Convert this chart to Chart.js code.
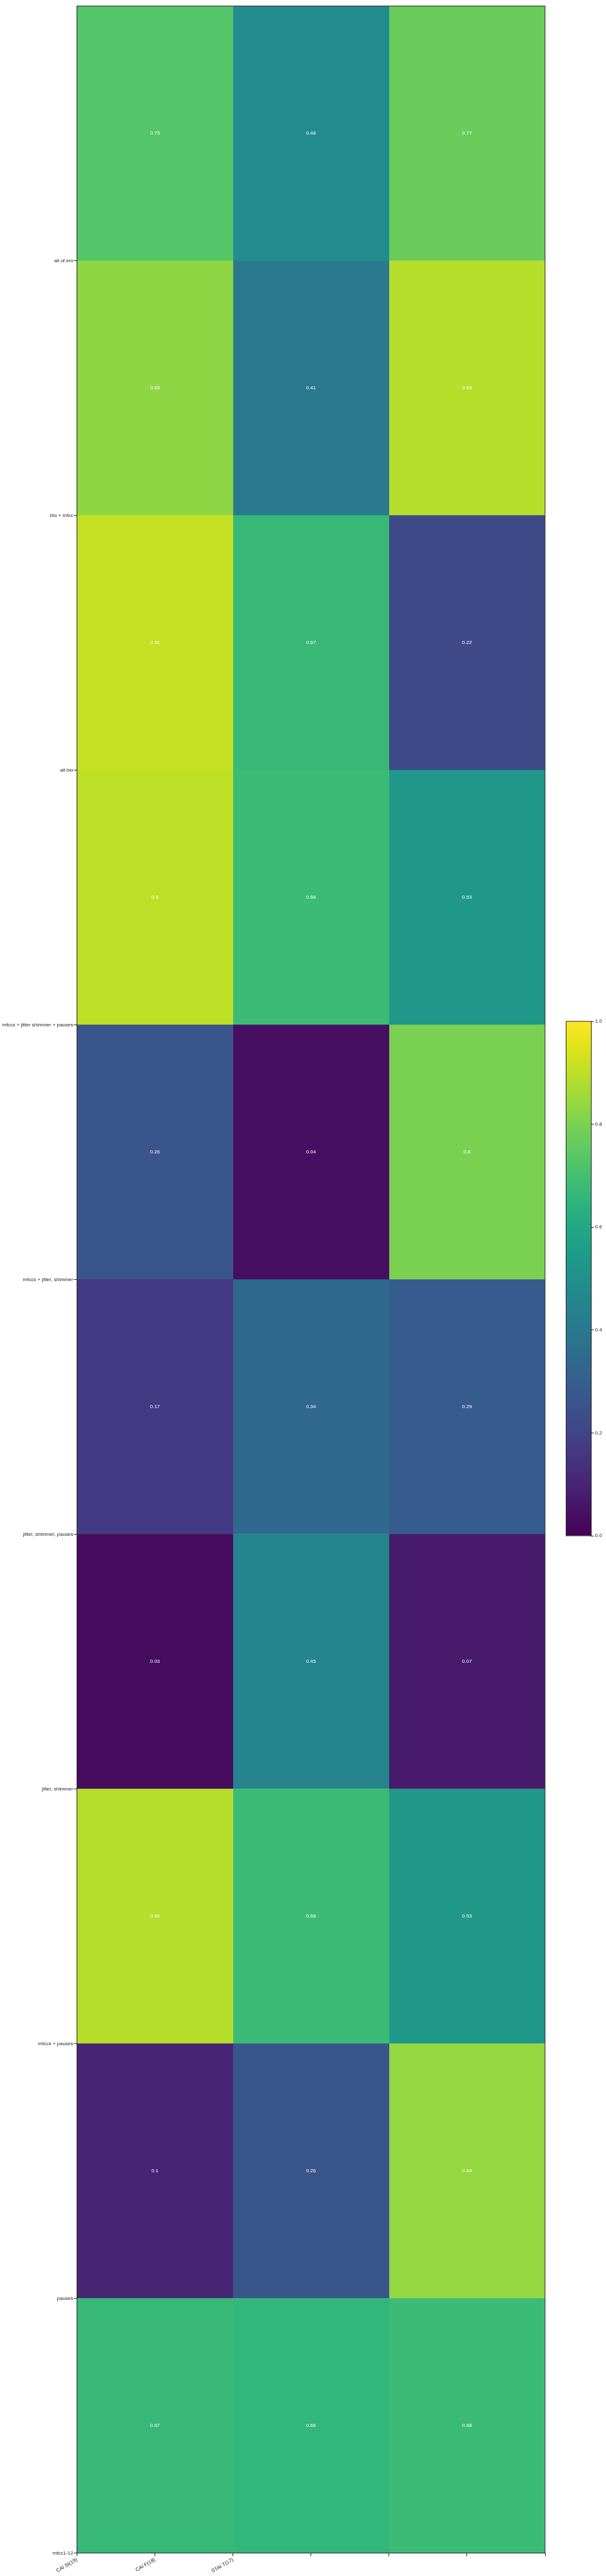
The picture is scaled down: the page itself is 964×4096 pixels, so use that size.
<!DOCTYPE html>
<html>
<head>
<meta charset="utf-8">
<script src="https://cdn.jsdelivr.net/npm/chart.js@4.4.0/dist/chart.umd.min.js"></script>
<style>
  html, body { margin: 0; padding: 0; background: #fff; }
  #heatmap { position: absolute; left: 0; top: 0; }
  #colorbar { position: absolute; left: 890px; top: 1610px; }
</style>
</head>
<body>
<canvas id="heatmap" width="964" height="4096"></canvas>
<canvas id="colorbar" width="74" height="846"></canvas>
<script>
// rows top to bottom (label sits on the lower edge of its row, as in the original)
const rowLabels = ['all of em', 'bio + mfcc', 'all bio', 'mfccs + jitter shimmer + pauses',
    'mfccs + jitter, shimmer', 'jitter, shimmer, pauses', 'jitter, shimmer',
    'mfccs + pauses', 'pauses', 'mfcc1-12'];
const colLabels = ['CAI St(19)', 'CAI F(18)', 'STAI T(17)'];

const caiSt = [0.73, 0.83, 0.91, 0.9, 0.26, 0.17, 0.03, 0.89, 0.1, 0.67];
const caiF  = [0.48, 0.41, 0.67, 0.68, 0.04, 0.34, 0.45, 0.68, 0.26, 0.66];
const staiT = [0.77, 0.89, 0.22, 0.53, 0.8, 0.29, 0.07, 0.53, 0.84, 0.68];

const xTicks = [0, 0.5, 1, 1.5, 2, 2.5, 3];
const cbTicks = [0, 0.2, 0.4, 0.6, 0.8, 1.0];

// viridis colormap, 21 stops
const viridisStops = ['#440154', '#471365', '#482475', '#463480', '#414487', '#3b528b',
    '#355f8d', '#2f6c8e', '#2a788e', '#25848e', '#21918c', '#1e9c89', '#22a884',
    '#2fb47c', '#44bf70', '#5ec962', '#7ad151', '#9bd93c', '#bddf26', '#dfe318', '#fde725'];

function hexToRgb(h) {
    return [parseInt(h.slice(1, 3), 16), parseInt(h.slice(3, 5), 16), parseInt(h.slice(5, 7), 16)];
}
function viridis(v) {
    const t = Math.min(1, Math.max(0, v)) * (viridisStops.length - 1);
    const i = Math.min(Math.floor(t), viridisStops.length - 2);
    const f = t - i;
    const a = hexToRgb(viridisStops[i]), b = hexToRgb(viridisStops[i + 1]);
    const c = a.map((x, k) => Math.round(x + (b[k] - x) * f));
    return `rgb(${c[0]},${c[1]},${c[2]})`;
}

const columns = [caiSt, caiF, staiT];
const nRows = rowLabels.length;
const font = { family: '"Liberation Sans", Arial, sans-serif', size: 8 };
const ink = '#222';

const datasets = columns.map((vals, c) => ({
    label: colLabels[c],
    data: vals.map((v, r) => ({ y: nRows - r - 0.5, x: [c, c + 1] })),
    backgroundColor: vals.map(viridis),
    borderWidth: 0,
    grouped: false,
    barPercentage: 1,
    categoryPercentage: 1
}));

// cell values + frame
const cellText = {
    id: 'cellText',
    afterDatasetsDraw(chart) {
        const { ctx, scales: { x, y } } = chart;
        ctx.save();
        ctx.fillStyle = '#fff';
        ctx.font = `8px ${font.family}`;
        ctx.textAlign = 'center';
        ctx.textBaseline = 'middle';
        columns.forEach((vals, c) => {
            vals.forEach((v, r) => {
                ctx.fillText(String(v), x.getPixelForValue(c + 0.5), y.getPixelForValue(nRows - r - 0.5));
            });
        });
        const a = chart.chartArea;
        ctx.strokeStyle = ink;
        ctx.lineWidth = 1;
        ctx.strokeRect(a.left, a.top, a.right - a.left, a.bottom - a.top);
        ctx.restore();
    }
};

new Chart(document.getElementById('heatmap'), {
    type: 'bar',
    data: { datasets: datasets },
    plugins: [cellText],
    options: {
        indexAxis: 'y',
        responsive: false,
        animation: false,
        layout: { padding: { top: 9.6, right: 97, left: 0, bottom: 0 } },
        plugins: {
            legend: { display: false },
            tooltip: { enabled: false }
        },
        scales: {
            x: {
                type: 'linear',
                min: 0,
                max: 3,
                offset: false,
                afterBuildTicks: ax => { ax.ticks = xTicks.map(v => ({ value: v })); },
                afterFit: s => { s.height = 36.5; },
                ticks: {
                    autoSkip: false,
                    minRotation: 30,
                    maxRotation: 30,
                    padding: 1,
                    color: ink,
                    font: font,
                    callback: v => colLabels[Math.round(v * 2)] ?? ''
                },
                grid: { drawOnChartArea: false, offset: false, tickLength: 5, color: ink },
                border: { display: true, color: ink }
            },
            y: {
                type: 'linear',
                min: 0,
                max: nRows,
                offset: false,
                afterBuildTicks: ax => { ax.ticks = rowLabels.map((_, i) => ({ value: i })); },
                afterFit: s => { s.width = 122.4; },
                ticks: {
                    autoSkip: false,
                    padding: 1,
                    color: ink,
                    font: font,
                    callback: v => rowLabels[nRows - 1 - v]
                },
                grid: { drawOnChartArea: false, offset: false, tickLength: 5, color: ink },
                border: { display: true, color: ink }
            }
        }
    }
});

// colorbar
const cbFrame = {
    id: 'cbFrame',
    afterDatasetsDraw(chart) {
        const a = chart.chartArea, ctx = chart.ctx;
        ctx.save();
        ctx.strokeStyle = ink;
        ctx.lineWidth = 1;
        ctx.strokeRect(a.left, a.top, a.right - a.left, a.bottom - a.top);
        ctx.restore();
    }
};

new Chart(document.getElementById('colorbar'), {
    type: 'bar',
    data: {
        labels: [''],
        datasets: [{
            data: [[0, 1]],
            borderWidth: 0,
            barPercentage: 1,
            categoryPercentage: 1,
            backgroundColor: context => {
                const a = context.chart.chartArea;
                if (!a) return viridisStops[10];
                const g = context.chart.ctx.createLinearGradient(0, a.bottom, 0, a.top);
                viridisStops.forEach((c, i) => g.addColorStop(i / (viridisStops.length - 1), c));
                return g;
            }
        }]
    },
    plugins: [cbFrame],
    options: {
        responsive: false,
        animation: false,
        layout: { padding: { top: 14, bottom: 14, left: 10.5, right: 0 } },
        plugins: {
            legend: { display: false },
            tooltip: { enabled: false }
        },
        scales: {
            x: { display: false },
            y: {
                position: 'right',
                min: 0,
                max: 1,
                afterBuildTicks: ax => { ax.ticks = cbTicks.map(v => ({ value: v })); },
                afterFit: s => { s.width = 23.4; },
                ticks: {
                    padding: 2,
                    color: ink,
                    font: font,
                    callback: v => v.toFixed(1)
                },
                grid: { drawOnChartArea: false, tickLength: 4, color: ink },
                border: { display: true, color: ink }
            }
        }
    }
});
</script>
</body>
</html>
